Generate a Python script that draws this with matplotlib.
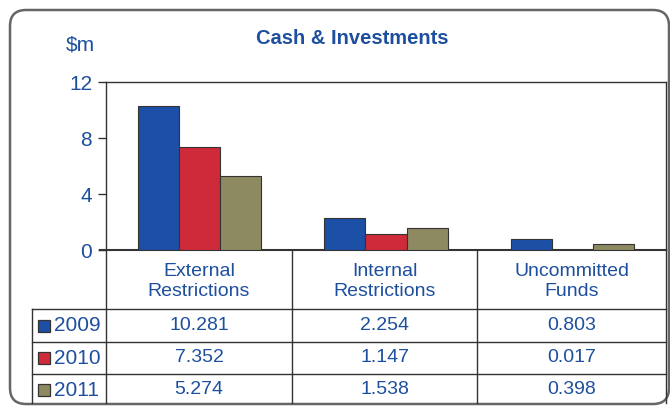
import matplotlib
matplotlib.use("Agg")
import matplotlib.pyplot as plt
from matplotlib.patches import FancyBboxPatch, Rectangle
import numpy as np

categories = ["External\nRestrictions", "Internal\nRestrictions", "Uncommitted\nFunds"]
years = ["2009", "2010", "2011"]
values_2009 = [10.281, 2.254, 0.803]
values_2010 = [7.352, 1.147, 0.017]
values_2011 = [5.274, 1.538, 0.398]
yticks = [0, 4, 8, 12]

series = [values_2009, values_2010, values_2011]
colors = ["#1c4fa6", "#cf2a3a", "#8d8a62"]
blue_text = "#1d4f9e"
edge = "#333333"

plt.rcParams['font.family'] = ['Liberation Sans', 'DejaVu Sans']

W, H = 670, 407
fig = plt.figure(figsize=(W / 100, H / 100), dpi=100)

# overlay in pixel coordinates for frame and table
bg = fig.add_axes([0, 0, 1, 1])
bg.set_xlim(0, W)
bg.set_ylim(H, 0)
bg.axis("off")
bg.add_patch(FancyBboxPatch((10, 10), 659, 394, boxstyle="round,pad=0,rounding_size=16",
                            fc="white", ec="#666666", lw=1.8, zorder=0))

# bar chart axes: x 106..666, y 82..250 px
left, right, top, bottom = 106, 666, 82, 250
ax = fig.add_axes([left / W, 1 - bottom / H, (right - left) / W, (bottom - top) / H])
ax.set_facecolor("none")
x = np.arange(len(categories))
bw = 0.22
for i, (vals, c) in enumerate(zip(series, colors)):
    ax.bar(x + (i - 1) * bw, vals, bw, color=c, edgecolor=edge, linewidth=0.8, label=years[i])
ax.set_xlim(-0.5, len(categories) - 0.5)
ax.set_ylim(0, 12)
ax.set_yticks(yticks)
ax.set_yticklabels([str(t) for t in yticks], color=blue_text, fontsize=15)
ax.tick_params(axis="y", length=6, width=1, color=edge, pad=4)
ax.set_xticks([])
for s in ["top", "left", "right"]:
    ax.spines[s].set_color(edge)
    ax.spines[s].set_linewidth(1)
ax.spines["bottom"].set_visible(False)

fig.text(352 / W, 1 - 38 / H, "Cash & Investments", color=blue_text, fontsize=14.5,
         fontweight="bold", ha="center", va="center")
fig.text(80 / W, 1 - 45 / H, "$m", color=blue_text, fontsize=15, ha="center", va="center")

# data table
col_edges = [left, 292, 477, right]
row_edges = [250, 309, 342, 374, 406]
table_bottom = 403
leg_left = 32
lc = "#333333"
bg.plot([left - 6, right], [250, 250], color=lc, lw=1.5)
for xe in col_edges:
    bg.plot([xe, xe], [250, table_bottom], color=lc, lw=1)
bg.plot([leg_left, leg_left], [row_edges[1], table_bottom], color=lc, lw=1)
for ye in row_edges[1:-1]:
    bg.plot([leg_left, right], [ye, ye], color=lc, lw=1)

for j, cat in enumerate(categories):
    cx = (col_edges[j] + col_edges[j + 1]) / 2
    bg.text(cx, (row_edges[0] + row_edges[1]) / 2 + 2, cat, color=blue_text, fontsize=14,
            ha="center", va="center", linespacing=1.25)
for i, (vals, c) in enumerate(zip(series, colors)):
    cy = (row_edges[i + 1] + row_edges[i + 2]) / 2
    bg.add_patch(Rectangle((38, cy - 6), 12, 12, fc=c, ec=edge, lw=0.9))
    bg.text(54, cy, years[i], color=blue_text, fontsize=15, ha="left", va="center")
    for j, v in enumerate(vals):
        cx = (col_edges[j] + col_edges[j + 1]) / 2
        bg.text(cx, cy, f"{v:.3f}", color=blue_text, fontsize=14, ha="center", va="center")

fig.savefig("out.png", dpi=100)
